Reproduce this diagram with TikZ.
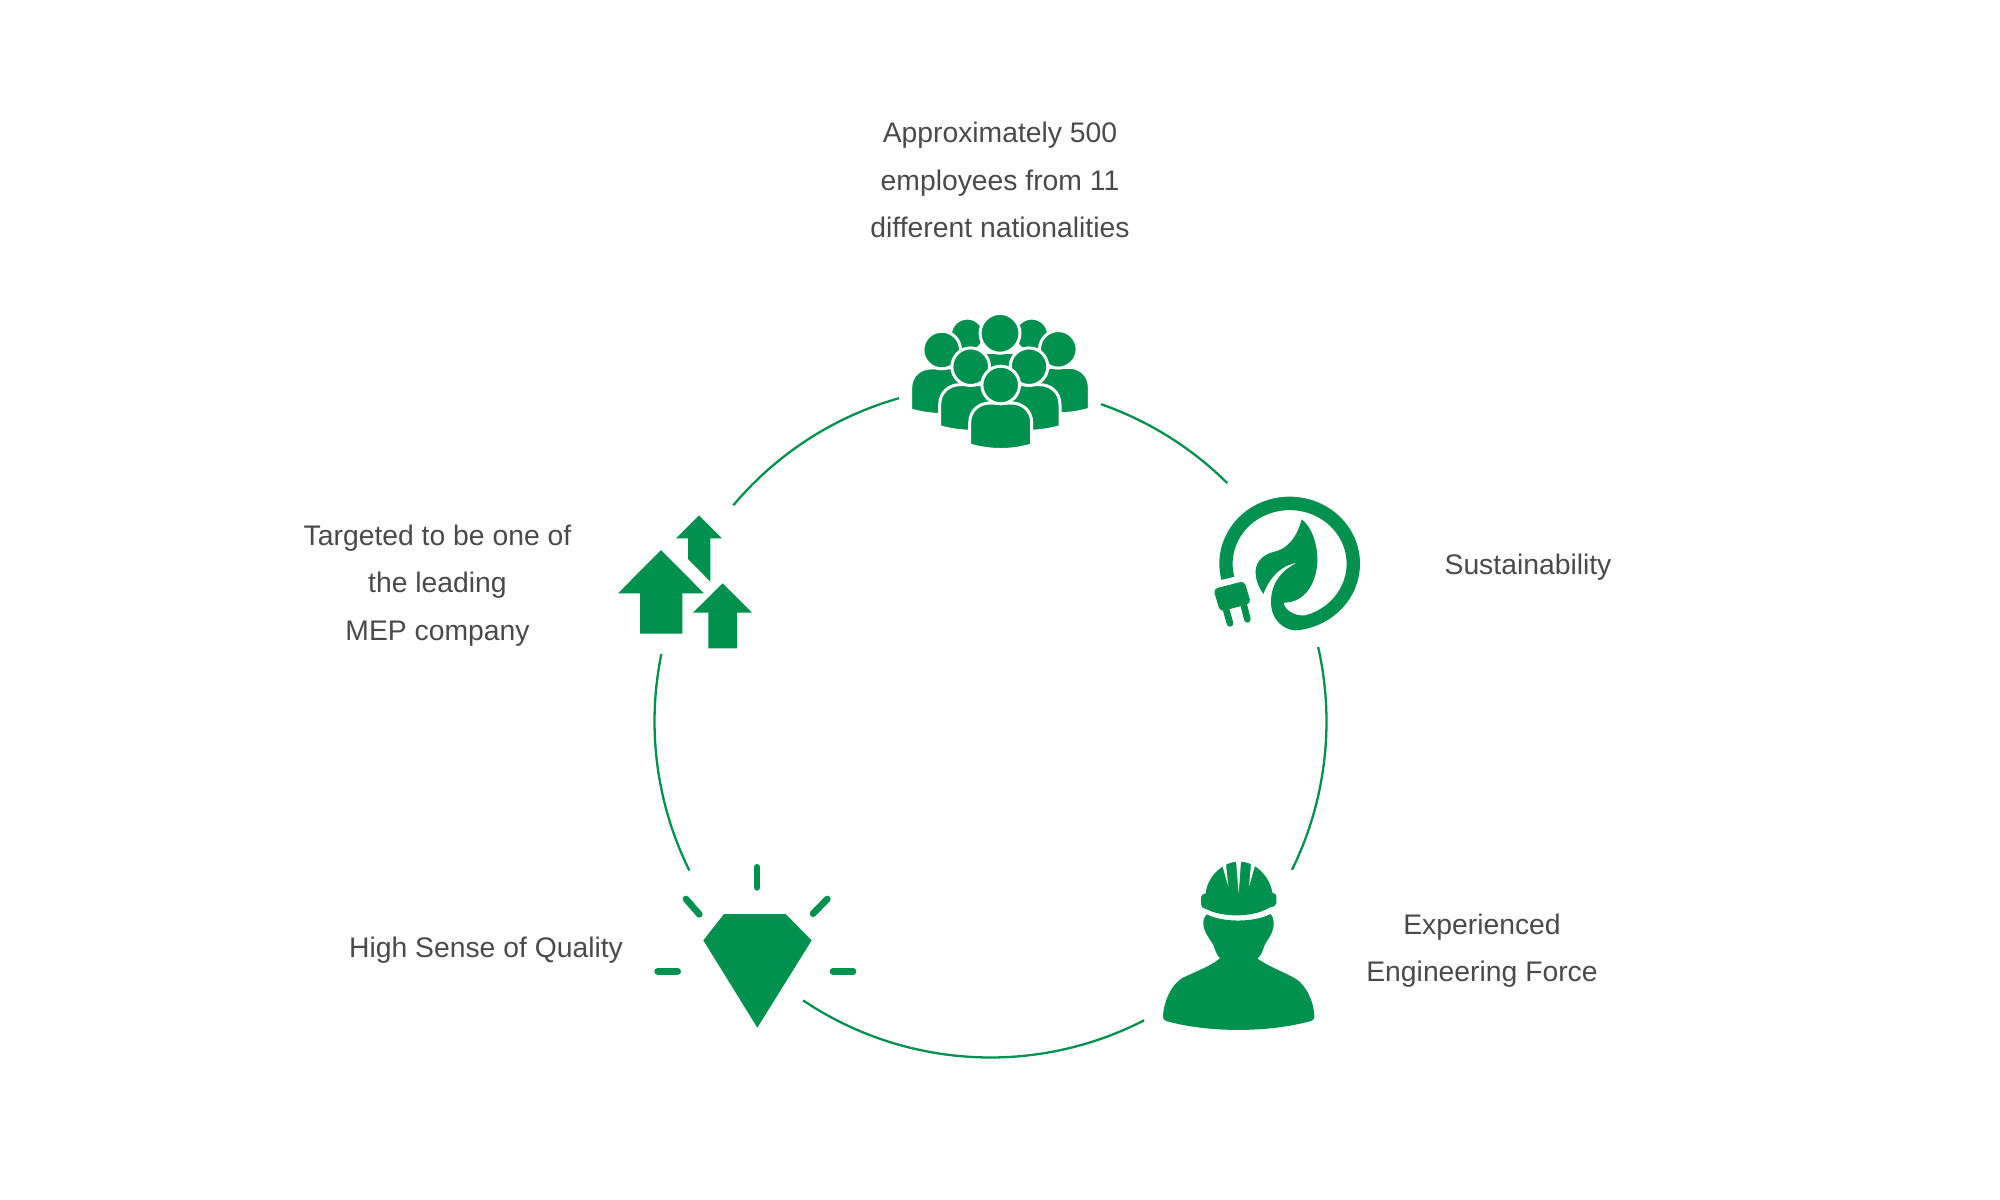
\documentclass[tikz,border=0pt]{standalone}
\usepackage{fontspec}
\setmainfont{Liberation Sans}
\definecolor{mepgreen}{HTML}{00914F}
\definecolor{labelgray}{HTML}{4A4A4A}
\tikzset{
  ringarc/.style={draw=mepgreen,line width=0.65pt},
  iconfill/.style={fill=mepgreen},
  ray/.style={draw=mepgreen,line width=1.9pt,line cap=round},
  label/.style={font=\fontsize{8.05pt}{13.47pt}\selectfont,text=labelgray,align=center},
  person/.pic={
    \draw[fill=mepgreen,draw=white,line width=0.85pt] (-31,60) -- (-31,38) .. controls (-31,25) and (-21,18) .. (-11,18) -- (11,18) .. controls (21,18) and (31,25) .. (31,38) -- (31,60) .. controls (10,66) and (-10,66) .. (-31,60) -- cycle;
    \draw[fill=mepgreen,draw=white,line width=0.85pt] (0,0) circle (18.8);
  }
}
\begin{document}
\begin{tikzpicture}[x=0.01cm,y=-0.01cm]
  \useasboundingbox (0,0) rectangle (2000,1200);
  \coordinate (ring) at (990.5,721.5);

  % ring segments between the icons
  \foreach \name/\from/\to in {growth/220.06/254.2,people/289.2/314.8,plug/347.2/386.2,worker/62.8/123.9,gem/153.7/191.6} {
    \path (ring) ++(\from:336) coordinate (\name-start);
    \draw[ringarc] (\name-start) arc[start angle=\from,end angle=\to,radius=336];
  }

  % group of people
  \pic[scale=0.9] at (967.3,335) {person};
  \pic[scale=0.9] at (1031.7,335) {person};
  \pic[scale=1.06] at (1000,333.3) {person};
  \pic at (941.7,350) {person};
  \pic at (1058.3,349.3) {person};
  \pic at (970.7,366.7) {person};
  \pic at (1029,366.7) {person};
  \pic at (1000.7,385) {person};

  % plug and leaf
  \begin{scope}[shift={(1190,480)},scale=1/3]
    \fill[iconfill] (299,251) ++(166:211 and 201) arc[start angle=166,end angle=445,x radius=211,y radius=201]
      .. controls (285,450) and (243,425) .. (243,365)
      .. controls (243,310) and (275,270) .. (322,248)
      .. controls (275,255) and (240,290) .. (220,342)
      .. controls (205,320) and (195,295) .. (197,270)
      .. controls (200,240) and (225,222) .. (250,216)
      .. controls (290,208) and (320,175) .. (335,118)
      .. controls (365,140) and (382,190) .. (382,240)
      .. controls (382,300) and (350,368) .. (282,368)
      .. controls (280,385) and (310,410) .. (346,406)
      arc[start angle=434,end angle=166,x radius=171,y radius=161] -- cycle;
    \fill[iconfill,rounded corners=1.2pt] (70,327) -- (163,303) -- (183,370) -- (90,395) -- cycle;
    \draw[ray] (107,385) -- (120,430);
    \draw[ray] (160,370) -- (172,418);
  \end{scope}

  % worker with helmet
  \begin{scope}[shift={(1140,850)},scale=1/3]
    \fill[iconfill] (197,130) .. controls (200,90) and (240,35) .. (297,35) .. controls (355,35) and (392,90) .. (397,128)
      .. controls (405,130) and (409,133) .. (409,140) -- (409,160) .. controls (409,168) and (400,170) .. (390,172)
      .. controls (340,203) and (250,203) .. (200,178) .. controls (190,175) and (183,172) .. (183,163) -- (183,142) .. controls (183,135) and (190,132) .. (197,130) -- cycle;
    \fill[white] (247,47) -- (258,43) -- (265,110) -- cycle;
    \fill[white] (288,33) -- (303,33) -- (296,130) -- cycle;
    \fill[white] (333,42) -- (345,47) -- (327,110) -- cycle;
    \fill[iconfill] (200,193) .. controls (250,218) and (340,218) .. (392,192)
      .. controls (403,205) and (403,225) .. (398,240) .. controls (392,262) and (380,270) .. (372,290)
      .. controls (368,305) and (362,318) .. (352,325)
      .. controls (385,350) and (430,365) .. (465,385) .. controls (500,405) and (523,460) .. (523,500)
      .. controls (523,510) and (515,513) .. (505,515) .. controls (380,548) and (210,548) .. (85,515)
      .. controls (75,513) and (69,508) .. (69,498) .. controls (72,450) and (95,405) .. (125,385)
      .. controls (165,365) and (210,350) .. (240,325)
      .. controls (230,315) and (225,300) .. (220,285) .. controls (212,270) and (198,255) .. (192,235)
      .. controls (187,220) and (190,203) .. (200,193) -- cycle;
  \end{scope}

  % gem with rays
  \begin{scope}[shift={(640,850)},scale=1/3]
    \fill[iconfill] (252,192) -- (437,192) -- (515,271) -- (352,533) -- (190,271) -- cycle;
    \draw[ray] (351,52) -- (351,112);
    \draw[ray] (138,147) -- (178,193);
    \draw[ray] (562,147) -- (519,191);
    \draw[ray] (53,364) -- (113,364);
    \draw[ray] (579,364) -- (639,364);
  \end{scope}

  % three arrows going up
  \begin{scope}[shift={(610,500)},scale=1/3]
    \fill[iconfill] (153,150) -- (282,280) -- (217,280) -- (217,401) -- (90,401) -- (90,280) -- (24,280) -- cycle;
    \fill[iconfill] (267,46) -- (336,115) -- (301,115) -- (301,245) -- (234,177) -- (234,115) -- (198,115) -- cycle;
    \fill[iconfill] (338,250) -- (426,338) -- (381,338) -- (381,445) -- (295,445) -- (295,338) -- (249,338) -- cycle;
  \end{scope}

  \node[label] (staff) at (1000,180) {Approximately 500\\employees from 11\\different nationalities};
  \node[label] (sustain) at (1528,567.5) {Sustainability};
  \node[label] (force) at (1482,950.5) {Experienced\\Engineering Force};
  \node[label] (quality) at (486,950.5) {High Sense of Quality};
  \node[label] (target) at (437.5,585.5) {Targeted to be one of\\the leading\\MEP company};
\end{tikzpicture}
\end{document}
